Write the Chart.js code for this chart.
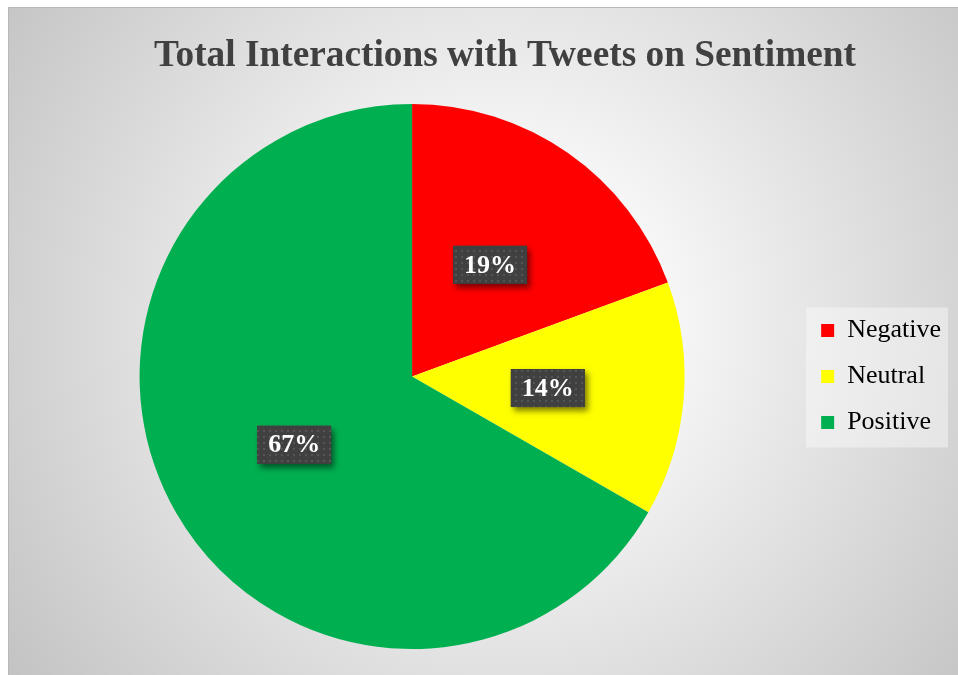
<!DOCTYPE html>
<html lang="en">

<head>
    <meta charset="UTF-8">
    <meta name="viewport" content="width=device-width, initial-scale=1.0">
    <title>Total Interactions with Tweets on Sentiment</title>
    <script src="https://cdn.jsdelivr.net/npm/chart.js"></script>
    <style>
        body {
            margin: 0;
            background: #ffffff;
        }

        #wrap {
            position: absolute;
            left: 8px;
            top: 7px;
            width: 950px;
            height: 668px;
            box-sizing: border-box;
            border-top: 1px solid #b8b8b8;
            border-left: 1px solid #b8b8b8;
            background: radial-gradient(circle at 52% 47%, #ffffff 0%, #f6f6f6 28%, #c3c3c3 100%);
        }
    </style>
</head>

<body>
    <div id="wrap">
        <canvas id="myChart"></canvas>
    </div>

    <script>
        // sentiment shares of all tweet interactions (percent)
        const sentiments = ['Negative', 'Neutral', 'Positive'];
        const shares = [19.4, 13.9, 66.7];
        const sliceColors = ['#ff0000', '#ffff00', '#00b050'];

        const chartTitle = 'Total Interactions with Tweets on Sentiment';

        // small dotted tile used inside the value label boxes
        function dotPattern(ctx) {
            const tile = document.createElement('canvas');
            tile.width = 6;
            tile.height = 6;
            const t = tile.getContext('2d');
            t.fillStyle = '#404040';
            t.fillRect(0, 0, 6, 6);
            t.fillStyle = '#555555';
            t.fillRect(2, 2, 2, 2);
            return ctx.createPattern(tile, 'repeat');
        }

        // title drawn by hand so it can sit off the canvas centre
        const titlePlugin = {
            id: 'sheetTitle',
            afterDraw(chart) {
                const ctx = chart.ctx;
                ctx.save();
                ctx.font = 'bold 38px "Liberation Serif"';
                ctx.fillStyle = '#404040';
                ctx.textAlign = 'center';
                ctx.textBaseline = 'alphabetic';
                ctx.fillText(chartTitle, 496, 58, 702);
                ctx.restore();
            }
        };

        // light panel behind the legend
        const legendPanel = {
            id: 'legendPanel',
            beforeDraw(chart) {
                const lg = chart.legend;
                if (!lg || !lg.legendHitBoxes.length) return;
                const boxes = lg.legendHitBoxes;
                const left = Math.min(...boxes.map(b => b.left)) - 15;
                const right = Math.max(...boxes.map(b => b.left + b.width)) + 7;
                const top = Math.min(...boxes.map(b => b.top)) - 10;
                const bottom = Math.max(...boxes.map(b => b.top + b.height)) + 12;
                const ctx = chart.ctx;
                ctx.save();
                ctx.fillStyle = 'rgba(255, 255, 255, 0.4)';
                ctx.fillRect(left, top, right - left, bottom - top);
                ctx.restore();
            }
        };

        // dark percentage boxes in the middle of each slice
        const valueLabels = {
            id: 'valueLabels',
            afterDatasetsDraw(chart) {
                const ctx = chart.ctx;
                const meta = chart.getDatasetMeta(0);
                const values = chart.data.datasets[0].data;
                const total = values.reduce((a, b) => a + b, 0);
                const fill = dotPattern(ctx);
                ctx.save();
                ctx.font = 'bold 26px "Liberation Serif"';
                meta.data.forEach((arc, i) => {
                    const pos = arc.tooltipPosition();
                    const text = Math.round(values[i] / total * 100) + '%';
                    const w = ctx.measureText(text).width + 22;
                    const h = 38;
                    const x = pos.x - w / 2;
                    const y = pos.y - h / 2;

                    ctx.save();
                    ctx.shadowColor = 'rgba(0, 0, 0, 0.5)';
                    ctx.shadowBlur = 6;
                    ctx.shadowOffsetX = 3;
                    ctx.shadowOffsetY = 4;
                    ctx.fillStyle = '#404040';
                    ctx.fillRect(x, y, w, h);
                    ctx.restore();

                    ctx.fillStyle = fill;
                    ctx.fillRect(x, y, w, h);

                    ctx.fillStyle = '#ffffff';
                    ctx.textAlign = 'center';
                    ctx.textBaseline = 'middle';
                    ctx.fillText(text, pos.x, pos.y + 1);
                });
                ctx.restore();
            }
        };

        const data = {
            labels: sentiments,
            datasets: [{
                data: shares,
                backgroundColor: sliceColors,
                borderWidth: 0
            }]
        };

        const config = {
            type: 'pie',
            data: data,
            plugins: [legendPanel, valueLabels, titlePlugin],
            options: {
                responsive: true,
                maintainAspectRatio: false,
                animation: false,
                layout: {
                    padding: {
                        top: 96,
                        bottom: 26,
                        left: 14,
                        right: 7
                    }
                },
                plugins: {
                    title: { display: false },
                    tooltip: { enabled: false },
                    legend: {
                        position: 'right',
                        labels: {
                            boxWidth: 13,
                            boxHeight: 13,
                            padding: 20,
                            color: '#000000',
                            font: {
                                family: '"Liberation Serif"',
                                size: 26
                            }
                        }
                    }
                }
            }
        };

        const myChart = new Chart(document.getElementById('myChart'), config);
    </script>
</body>

</html>
